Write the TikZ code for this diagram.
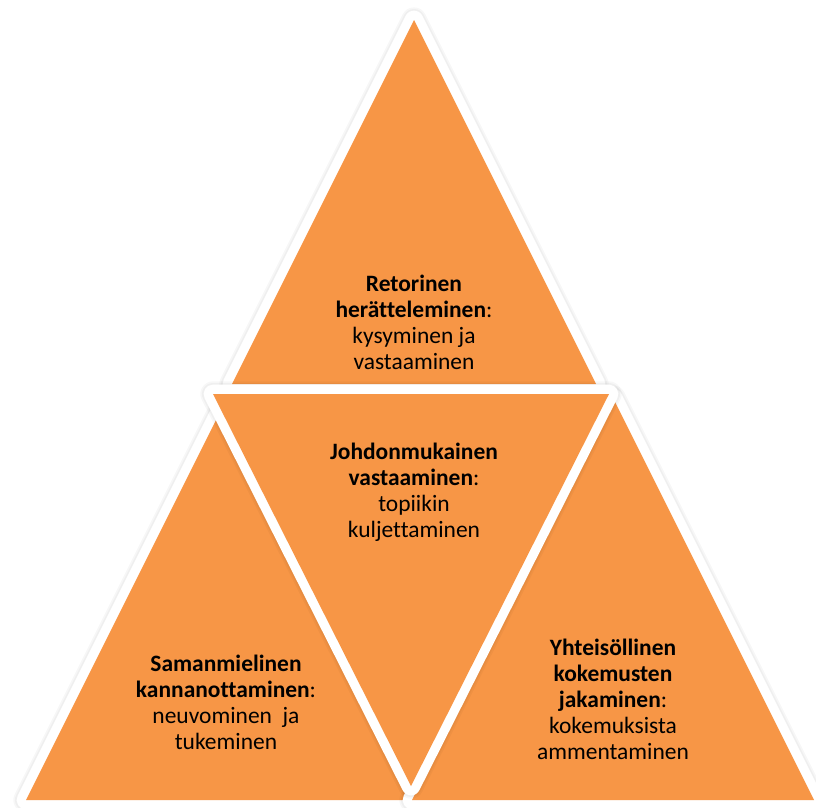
\documentclass[tikz,border=0pt]{standalone}
\usepackage{fontspec}
\setmainfont[Ligatures=NoCommon]{Carlito}
\definecolor{triorange}{HTML}{F79646}
\tikzset{
  trifill/.style={fill=triorange},
  tririm/.style={draw=white, fill=white, line width=14pt, line join=round},
  trishade/.style={draw=black, line join=round, opacity=0.03, line width=#1},
  tritext/.style={align=center, text=black, inner sep=0pt,
    font=\fontsize{17.6pt}{19.5pt}\selectfont},
}
% one pyramid piece: soft shadow, white rim, orange face
\newcommand\pyrpiece[3]{%
  \foreach \w in {19pt,16.5pt}{%
    \draw[trishade=\w, shift={(1.5,1.5)}] #1 -- #2 -- #3 -- cycle;}
  \draw[tririm] #1 -- #2 -- #3 -- cycle;
  \fill[trifill] #1 -- #2 -- #3 -- cycle;
}
\begin{document}
\begin{tikzpicture}[x=0.75pt, y=-0.75pt]
  \useasboundingbox (0,0) rectangle (816,807);

  % corners of the four pieces
  \coordinate (tA) at (414,20);  \coordinate (tL) at (232,384); \coordinate (tR) at (596,384);
  \coordinate (lA) at (227,398); \coordinate (lL) at (26,800);  \coordinate (lR) at (428,800);
  \coordinate (rA) at (613,398); \coordinate (rL) at (412,800); \coordinate (rR) at (814,800);
  \coordinate (mL) at (213,394); \coordinate (mR) at (609,394); \coordinate (mB) at (411,786);

  \pyrpiece{(tA)}{(tL)}{(tR)}
  \pyrpiece{(lA)}{(lL)}{(lR)}
  \pyrpiece{(rA)}{(rL)}{(rR)}
  \pyrpiece{(mL)}{(mR)}{(mB)}

  \node[tritext] (ttop) at (414,322)
    {\textbf{Retorinen}\\\textbf{herätteleminen}:\\kysyminen ja\\vastaaminen};
  \node[tritext] (tmid) at (414,492)
    {\textbf{Johdonmukainen}\\\textbf{vastaaminen}:\\topiikin\\kuljettaminen};
  \node[tritext] (tleft) at (226,702)
    {\textbf{Samanmielinen}\\\textbf{kannanottaminen}:\\neuvominen~~ja\\tukeminen};
  \node[tritext] (tright) at (613,699)
    {\textbf{Yhteisöllinen}\\\textbf{kokemusten}\\\textbf{jakaminen}:\\kokemuksista\\ammentaminen};
\end{tikzpicture}
\end{document}
